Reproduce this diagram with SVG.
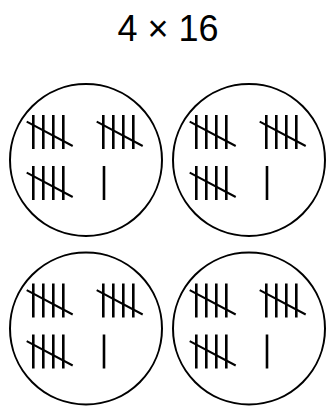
<svg xmlns="http://www.w3.org/2000/svg" xmlns:xlink="http://www.w3.org/1999/xlink" width="326" height="406" viewBox="0 0 326 406">
<style>
.ring{fill:none;stroke:#000;stroke-width:2}
.bar{stroke:#000;stroke-width:2.6}
.slash{stroke:#000;stroke-width:2}
.title{font-family:"Liberation Sans",Arial,sans-serif;font-size:36px;fill:#000}
</style>
<defs>
<g id="five">
<line class="bar" x1="0" y1="0" x2="0" y2="34"/>
<line class="bar" x1="10" y1="0" x2="10" y2="34"/>
<line class="bar" x1="20" y1="0" x2="20" y2="34"/>
<line class="bar" x1="30" y1="0" x2="30" y2="34"/>
<line class="slash" x1="-6.6" y1="6.7" x2="39.4" y2="31"/>
</g>
<g id="one">
<line class="bar" x1="0" y1="0" x2="0" y2="34"/>
</g>
<g id="group16">
<circle class="ring" cx="0" cy="0" r="76"/>
<use xlink:href="#five" x="-52.7" y="-45"/>
<use xlink:href="#five" x="17.3" y="-45"/>
<use xlink:href="#five" x="-52.7" y="6"/>
<use xlink:href="#one" x="18" y="6"/>
</g>
</defs>
<text class="title" x="168" y="40.7" text-anchor="middle">4 × 16</text>
<g id="group-1"><use xlink:href="#group16" x="86" y="160"/></g>
<g id="group-2"><use xlink:href="#group16" x="249" y="160"/></g>
<g id="group-3"><use xlink:href="#group16" x="86" y="328.5"/></g>
<g id="group-4"><use xlink:href="#group16" x="249" y="328.5"/></g>
<g id="connectors"></g>
</svg>
